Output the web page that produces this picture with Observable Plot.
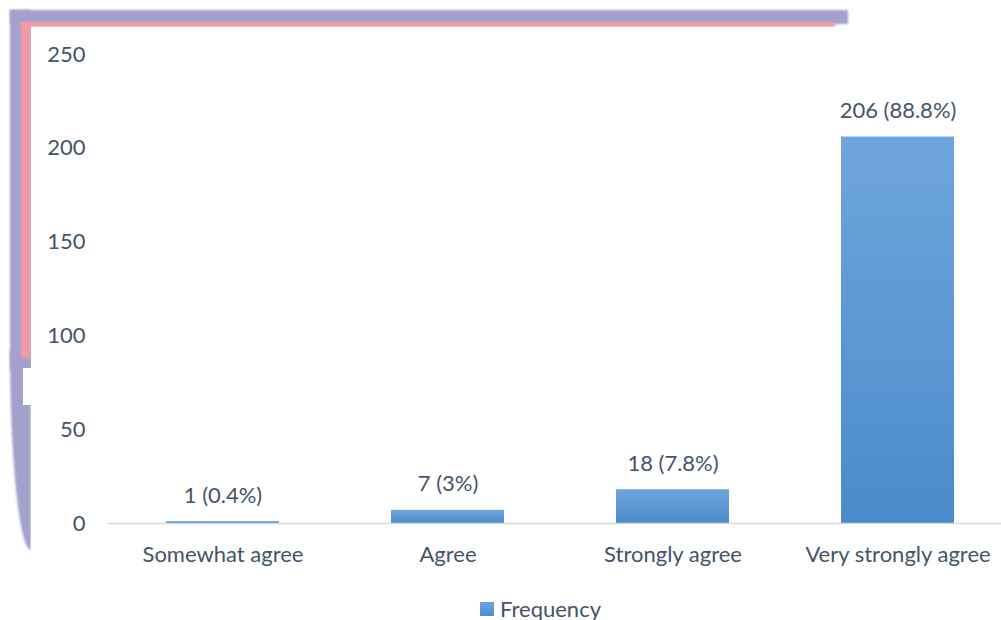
<!DOCTYPE html>
<html>
<head>
<meta charset="utf-8">
<script src="https://cdn.jsdelivr.net/npm/d3@7"></script>
<script src="https://cdn.jsdelivr.net/npm/@observablehq/plot@0.6"></script>
<style>
  html, body { margin: 0; padding: 0; background: #fff; width: 1001px; height: 620px; overflow: hidden; }
  #wrap { position: relative; width: 1001px; height: 620px; font-family: Lato, "Open Sans", sans-serif; }
  .frame { position: absolute; filter: blur(1.2px); }
  #chart { position: absolute; left: 0; top: 0; }
  #legend { position: absolute; left: 480px; top: 595px; display: flex; align-items: center; color: #44546A; font-size: 22px; font-family: Lato, sans-serif; }
  #legend .sw { width: 14px; height: 14px; margin-right: 6px; background: linear-gradient(#6FA5DC, #4A8BCB); }
</style>
</head>
<body>
<div id="wrap">
  <div class="frame" style="left:10px;top:10px;width:838px;height:14px;background:#A3A1CB;"></div>
  <div class="frame" style="left:10px;top:10px;width:21px;height:360px;background:#A3A1CB;"></div>
  <div class="frame" style="left:10px;top:350px;width:21px;height:200px;background:#A3A1CB;border-bottom-left-radius:100% 100%;"></div>
  <div class="frame" style="left:21px;top:22px;width:814px;height:5px;background:#F19AA5;"></div>
  <div class="frame" style="left:21px;top:22px;width:10px;height:336px;background:#F19AA5;"></div>
  <div class="frame" style="left:31px;top:27px;width:810px;height:560px;background:#fff;filter:none;"></div>
  <div class="frame" style="left:23px;top:368px;width:8px;height:37px;background:#fff;filter:none;"></div>
  <div id="chart"></div>
  <div id="legend"><span class="sw"></span><span>Frequency</span></div>
</div>
<script>
const categories = ["Somewhat agree", "Agree", "Strongly agree", "Very strongly agree"];
const frequencies = [1, 7, 18, 206];
const labels = ["1 (0.4%)", "7 (3%)", "18 (7.8%)", "206 (88.8%)"];
const yTicks = [0, 50, 100, 150, 200, 250];

const data = categories.map((c, i) => ({category: c, value: frequencies[i], label: labels[i]}));
const textColor = "#44546A";

const svg = Plot.plot({
  width: 1001,
  height: 585,
  marginTop: 54,
  marginBottom: 62,
  marginLeft: 108,
  marginRight: 0,
  style: {background: "transparent", fontFamily: "Lato, 'Open Sans', sans-serif", fontSize: "22px", color: textColor},
  x: {domain: categories, range: [108, 1011], paddingInner: 0.5, paddingOuter: 0.25, label: null, tickSize: 0, tickPadding: 23},
  y: {domain: [0, 250], ticks: yTicks, label: null, tickSize: 0, tickPadding: 23},
  marks: [
    Plot.barY(data, {x: "category", y: "value", fill: "#5B9BD5"}),
    Plot.ruleY([0], {stroke: "#D9D9D9", strokeWidth: 1.5}),
    Plot.text(data, {x: "category", y: "value", text: "label", dy: -26, fill: textColor, fontSize: 22})
  ]
});

const s = d3.select(svg);
const defs = s.insert("defs", ":first-child");
const g = defs.append("linearGradient").attr("id", "barGrad").attr("x1", 0).attr("y1", 0).attr("x2", 0).attr("y2", 1);
g.append("stop").attr("offset", "0%").attr("stop-color", "#6FA5DC");
g.append("stop").attr("offset", "100%").attr("stop-color", "#4A8BCB");
s.selectAll("g[aria-label='bar'] rect").attr("fill", "url(#barGrad)");
s.selectAll("g[aria-label='y-axis tick label'] text, g[aria-label='x-axis tick label'] text").attr("fill", textColor);
document.getElementById("chart").appendChild(svg);
</script>
</body>
</html>
